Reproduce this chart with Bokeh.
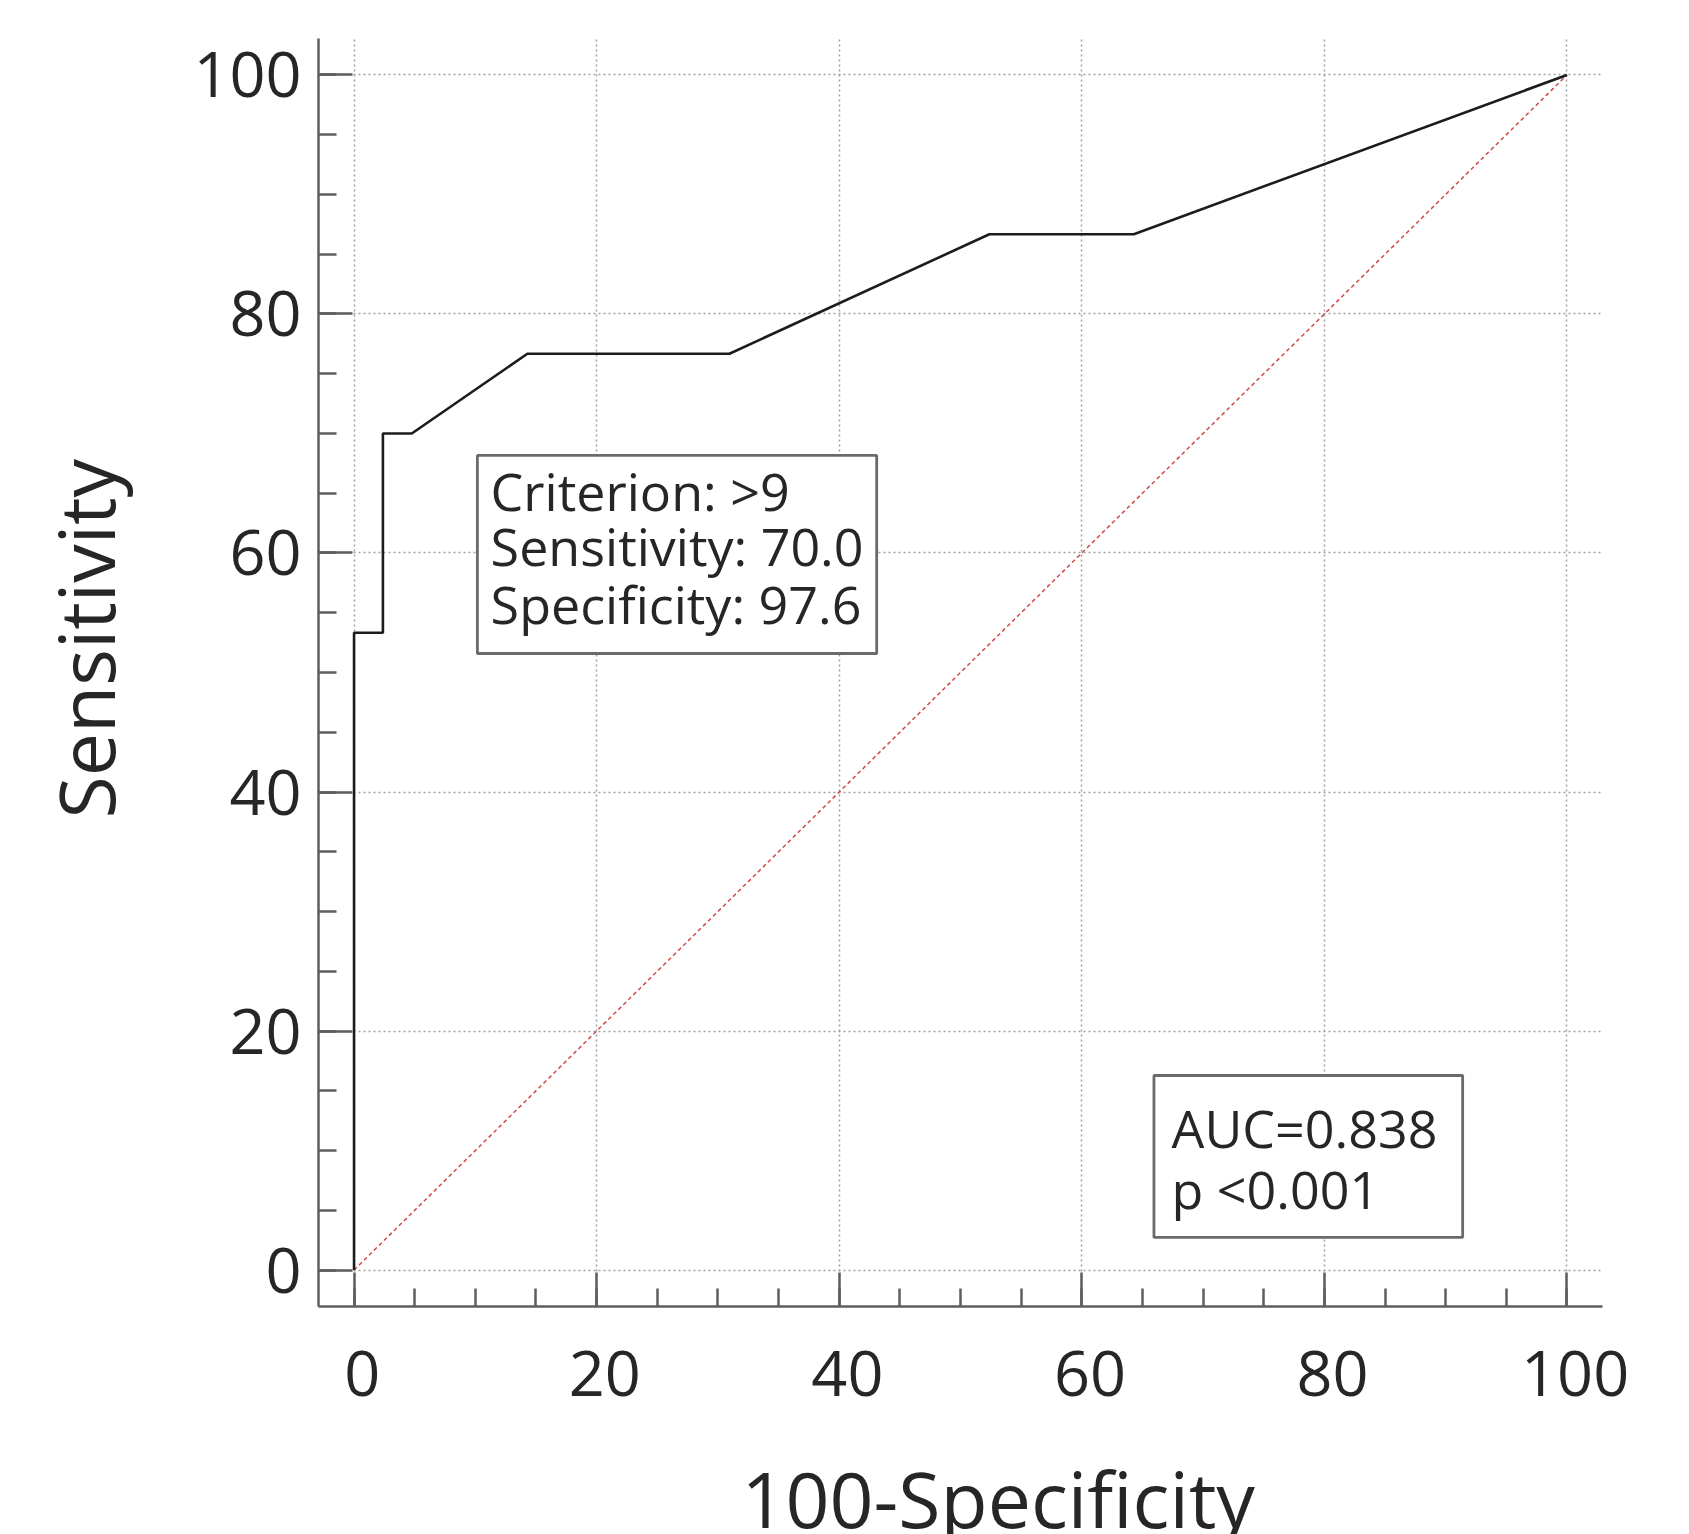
from bokeh.plotting import figure
from bokeh.models import (Range1d, SingleIntervalTicker, FixedTicker, BoxAnnotation,
                          Label, Title, LinearAxis)
from bokeh.embed import file_html
from bokeh.resources import INLINE

# ---- data ----
roc_x = [0, 0, 2.38, 2.38, 4.76, 14.29, 30.95, 52.38, 64.29, 100]       # 100-Specificity
roc_y = [0, 53.33, 53.33, 70.0, 70.0, 76.67, 76.67, 86.67, 86.67, 100]  # Sensitivity
ref_x = [0, 100]
ref_y = [0, 100]
tick_values = [0, 20, 40, 60, 80, 100]
tick_interval = 20
x_title = "100-Specificity"
y_title = "Sensitivity"
criterion_lines = ["Criterion: >9", "Sensitivity: 70.0", "Specificity: 97.6"]
auc_lines = ["AUC=0.838", " p <0.001"]

FONT = "Open Sans"
TXT = "#262626"
AX = "#5e5e5e"

p = figure(frame_width=1284, frame_height=1268,
           min_border_left=318, min_border_right=83,
           min_border_top=38, min_border_bottom=224,
           x_range=Range1d(-2.93, 102.93), y_range=Range1d(-3.05, 103.05),
           output_backend="svg", toolbar_location=None,
           background_fill_color="white", border_fill_color="white")
p.outline_line_color = None

for ax in (p.xaxis[0], p.yaxis[0]):
    ax.ticker = SingleIntervalTicker(interval=tick_interval, num_minor_ticks=4)
    ax.axis_line_color = AX
    ax.axis_line_width = 2.5
    ax.major_tick_line_color = AX
    ax.major_tick_line_width = 2.5
    ax.minor_tick_line_color = AX
    ax.minor_tick_line_width = 2.5
    ax.major_tick_in = 34
    ax.major_tick_out = 0
    ax.minor_tick_in = 18
    ax.minor_tick_out = 0
    ax.major_label_text_font = FONT
    ax.major_label_text_font_size = "63px"
    ax.major_label_text_color = TXT
p.xaxis.major_label_standoff = 22
p.yaxis.major_label_standoff = 17
# the reference draws its x tick labels a little right of their ticks
p.xaxis.major_label_overrides = {v: "\u00a0" + str(v) for v in tick_values}

for g in (p.xgrid[0], p.ygrid[0]):
    g.ticker = SingleIntervalTicker(interval=tick_interval)
    g.grid_line_color = "#a0a0a0"
    g.grid_line_width = 1.5
    g.grid_line_dash = "2 3"

# reference diagonal
p.line(ref_x, ref_y, line_color="#d04a4a", line_width=1.5, line_dash="4 3")
# ROC curve
p.line(roc_x, roc_y, line_color="#1c1c1c", line_width=2.6)

# annotation boxes
box_style = dict(fill_color="white", fill_alpha=1.0,
                 line_color="#6a6a6a", line_alpha=1.0, line_width=2.8)
p.add_layout(BoxAnnotation(left=10.17, right=43.09, bottom=51.59, top=68.16, **box_style))
p.add_layout(BoxAnnotation(left=65.95, right=91.4, bottom=2.74, top=16.28, **box_style))

crit_baselines = [65.26, 60.65, 55.8]
for t, yb in zip(criterion_lines, crit_baselines):
    p.add_layout(Label(x=11.26, y=yb, text=t, text_font=FONT, text_font_size="52px",
                       text_color=TXT, text_baseline="alphabetic", text_align="left"))
auc_baselines = [11.93, 6.85]
for t, yb in zip(auc_lines, auc_baselines):
    p.add_layout(Label(x=67.4, y=yb, text=t, text_font=FONT, text_font_size="52px",
                       text_color=TXT, text_baseline="alphabetic", text_align="left"))


def spacer(gap, at):
    """An axis drawn in white that only reserves `gap` pixels between an axis and its title."""
    return LinearAxis(ticker=FixedTicker(ticks=[at]), major_label_overrides={at: ""},
                      axis_line_color=None, minor_tick_line_color=None,
                      major_tick_line_color="white", major_tick_line_width=1,
                      major_tick_in=0, major_tick_out=gap, minor_tick_in=0, minor_tick_out=0,
                      major_label_standoff=0)


p.add_layout(spacer(22, -2), "below")
p.add_layout(spacer(53, 102), "left")

# axis titles
p.add_layout(Title(text=x_title, align="left", offset=423, text_font=FONT,
                   text_font_size="77px", text_color=TXT, text_font_style="normal",
                   standoff=10), "below")
p.add_layout(Title(text=y_title, align="left", offset=488, text_font=FONT,
                   text_font_size="77px", text_color=TXT, text_font_style="normal",
                   standoff=0), "left")

open("out.html", "w").write(file_html(p, INLINE))
